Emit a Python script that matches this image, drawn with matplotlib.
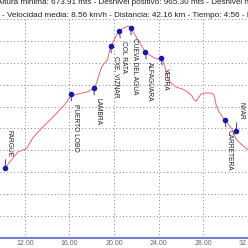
import matplotlib
matplotlib.use('Agg')
import matplotlib.pyplot as plt
from matplotlib.ticker import FormatStrFormatter, MultipleLocator

plt.rcParams['font.family'] = ['Liberation Sans', 'DejaVu Sans']

# elevation profile (km, m)
dist_km = [10.22, 10.93, 11.38, 11.83, 12.18, 12.72, 13.52, 14.51, 15.31, 15.76,
           16.03, 16.12, 16.47, 17.10, 17.63, 18.17, 18.44, 18.71, 18.89, 19.15,
           19.42, 19.69, 19.87, 20.23, 20.49, 20.85, 21.30, 21.48, 21.83, 22.28,
           22.64, 22.82, 23.17, 23.62, 23.89, 24.25, 24.43, 24.69, 24.87, 25.23,
           25.59, 26.12, 26.48, 26.93, 27.20, 27.37, 27.55, 27.82, 28.27, 28.72,
           28.98, 29.16, 29.34, 29.79, 29.97, 30.32, 30.68, 30.95, 31.40, 32.05]
elev_m = [920, 965, 993, 1002, 1011, 1057, 1102, 1152, 1194, 1221,
          1244, 1258, 1253, 1262, 1267, 1285, 1308, 1353, 1381, 1399,
          1413, 1477, 1490, 1527, 1545, 1559, 1568, 1559, 1531, 1495,
          1463, 1449, 1436, 1422, 1417, 1422, 1404, 1358, 1321, 1303,
          1289, 1280, 1271, 1253, 1230, 1226, 1239, 1258, 1262, 1262,
          1253, 1207, 1184, 1148, 1139, 1116, 1089, 1052, 1029, 1002]

# waypoints
wp_names = ['FARGUE', 'PUERTO LOBO', 'LAMBRA', 'CXE. VIZNAR', 'COL RATA',
            'CUEVA DEL AGUA', 'ALFAGUARA', 'YEDRA', 'CARRETERA', 'NYAR']
wp_km = [10.22, 16.12, 18.17, 19.69, 20.49, 21.48, 22.82, 24.25, 29.97, 30.95]
wp_elev = [920, 1258, 1285, 1477, 1545, 1559, 1449, 1422, 1139, 1089]
wp_above = [True, False, False, False, False, False, False, False, False, True]

line1 = 'Altura minima: 673.91 mts - Desnivel positivo: 965.30 mts - Desnivel negativo'
line2 = '- Velocidad media: 8.56 km/h - Distancia: 42.16 km - Tiempo: 4:56 - Fecha'

fig = plt.figure(figsize=(2.48, 2.48), dpi=100)
ax = fig.add_axes([0, 10 / 248, 1, 219 / 248])

grid_col = '#7e7eb8'
ax.set_xlim(9.77, 32.02)
ax.set_ylim(600, 1600)
ax.xaxis.set_major_locator(MultipleLocator(4))
ax.yaxis.set_major_locator(MultipleLocator(100))
ax.xaxis.set_major_formatter(FormatStrFormatter('%.2f'))
ax.grid(True, linestyle=(0, (1, 2.5)), color=grid_col, linewidth=0.7)
ax.set_axisbelow(True)
for s in ['top', 'left', 'right']:
    ax.spines[s].set_visible(False)
ax.spines['bottom'].set_color('#7b7bd0')
ax.spines['bottom'].set_linewidth(1.5)
ax.tick_params(axis='x', length=0, pad=1.5, labelsize=5, labelcolor='#666666')
ax.tick_params(axis='y', length=0, labelleft=False)

ax.plot(dist_km, elev_m, color='#e06a6a', linewidth=0.7, zorder=3)
ax.plot(wp_km, wp_elev, 'o', color='#1a1aa8', markersize=3, zorder=4)

for name, x, y, up in zip(wp_names, wp_km, wp_elev, wp_above):
    if up:
        ax.annotate(name, xy=(x, y), xytext=(0.7, 8), textcoords='offset points',
                    rotation=270, ha='left', va='bottom', fontsize=4.8, color='#222222',
                    arrowprops=dict(arrowstyle='-', color='#1a1aa8', lw=0.6,
                                    relpos=(0, 0), shrinkA=0, shrinkB=0))
    else:
        ax.annotate(name, xy=(x, y), xytext=(0.7, -7), textcoords='offset points',
                    rotation=270, ha='left', va='top', fontsize=4.8, color='#222222',
                    arrowprops=dict(arrowstyle='-', color='#1a1aa8', lw=0.6,
                                    relpos=(0, 1), shrinkA=0, shrinkB=0))

fig.text(-3 / 248, 1 - 3 / 248, line1, fontsize=5.9, color='#222222', va='center', ha='left')
fig.text(2 / 248, 1 - 15.5 / 248, line2, fontsize=5.9, color='#222222', va='center', ha='left')

fig.savefig('out.png', dpi=100)
